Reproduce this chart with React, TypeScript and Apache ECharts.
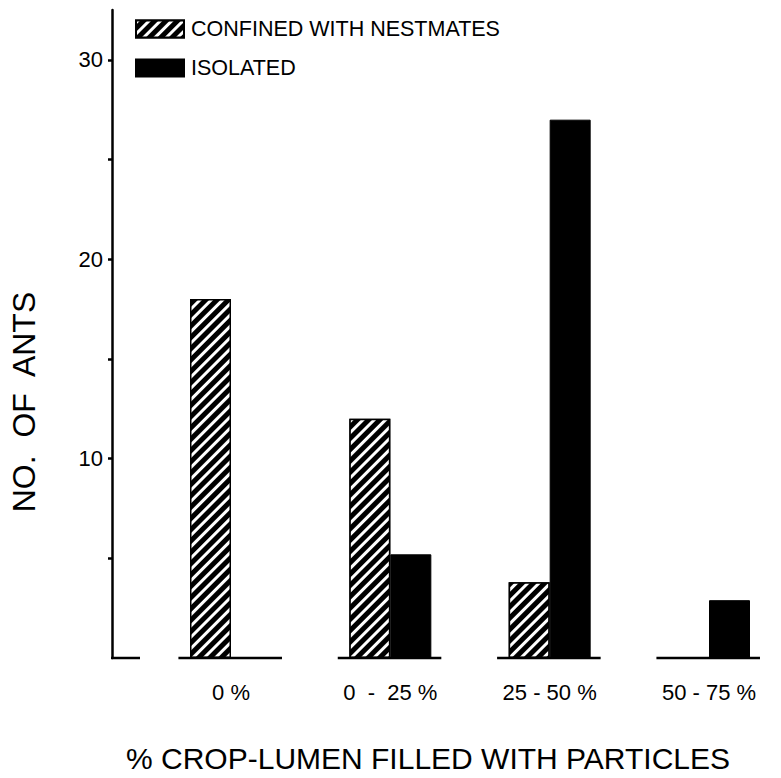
import React, { useEffect, useRef } from "react";
import * as echarts from "echarts";

const categories = ["0 %", "0  -  25 %", "25 - 50 %", "50 - 75 %"];
const confinedValues = [18, 12, 3.8, 0];
const isolatedValues = [0, 5.2, 27, 2.9];
const yLabelValues = [10, 20, 30];
const yTickValues = [5, 10, 15, 20, 25, 30];
const seriesNames = ["CONFINED WITH NESTMATES", "ISOLATED"];

const FONT = "Liberation Sans";

export default function App() {
  const ref = useRef<HTMLDivElement>(null);
  useEffect(() => {
    document.body.style.margin = "0";
    const chart = echarts.init(ref.current!, null, { renderer: "svg" });
    const option: any = {
      animation: false,
      backgroundColor: "#fff",
      textStyle: { fontFamily: FONT, color: "#000" },
      grid: { left: 231, right: 72, top: 10, bottom: 120 },
      legend: {
        data: seriesNames,
        orient: "vertical",
        left: 130,
        top: 13,
        icon: "rect",
        itemWidth: 48,
        itemHeight: 17,
        itemGap: 17,
        textStyle: { fontFamily: FONT, fontSize: 21.5, color: "#000", padding: [0, 0, 0, 2] },
        selectedMode: false,
      },
      xAxis: {
        type: "category",
        data: categories,
        boundaryGap: false,
        axisLine: { show: false },
        axisTick: { show: false },
        axisLabel: { fontFamily: FONT, fontSize: 22, color: "#000", margin: 23 },
      },
      yAxis: {
        type: "value",
        min: 0,
        max: 32.5,
        interval: 5,
        offset: 119,
        splitLine: { show: false },
        axisLine: { show: true, lineStyle: { color: "#000", width: 2.5 } },
        axisTick: { show: true, length: 4, customValues: yTickValues, lineStyle: { color: "#000", width: 2.5 } },
        axisLabel: { customValues: yLabelValues, fontFamily: FONT, fontSize: 22, color: "#000", margin: 9 },
      },
      series: [
        {
          name: seriesNames[0],
          type: "bar",
          data: confinedValues,
          barWidth: 41,
          barGap: "0%",
          itemStyle: {
            color: "#000",
            borderColor: "#000",
            borderWidth: 1.5,
            decal: {
              symbol: "rect",
              symbolSize: 1,
              color: "#fff",
              dashArrayX: [1, 0],
              dashArrayY: [2.5, 5],
              rotation: -Math.PI / 4,
            },
          },
        },
        {
          name: seriesNames[1],
          type: "bar",
          data: isolatedValues,
          barWidth: 41,
          barGap: "0%",
          itemStyle: { color: "#000", borderColor: "#000", borderWidth: 1 },
        },
        {
          type: "custom",
          name: "baseline",
          data: categories.map((_, i) => [i]),
          encode: { x: 0 },
          silent: true,
          z: 5,
          renderItem: (params: any, api: any) => {
            const p = api.coord([api.value(0), 0]);
            const band = api.size([1, 0])[0];
            return {
              type: "line",
              shape: { x1: p[0] - 0.33 * band, y1: p[1], x2: p[0] + 0.32 * band, y2: p[1] },
              style: { stroke: "#000", lineWidth: 2.5 },
            };
          },
        },
      ],
      graphic: [
        {
          type: "line",
          shape: { x1: 111, y1: 658, x2: 140, y2: 658 },
          style: { stroke: "#000", lineWidth: 2.5 },
        },
        {
          type: "text",
          x: 24,
          y: 402,
          rotation: Math.PI / 2,
          style: {
            text: "NO.  OF  ANTS",
            fontFamily: FONT,
            fontSize: 32,
            fill: "#000",
            align: "center",
            verticalAlign: "middle",
          },
        },
        {
          type: "text",
          x: 428,
          y: 758,
          style: {
            text: "% CROP-LUMEN FILLED WITH PARTICLES",
            fontFamily: FONT,
            fontSize: 30,
            fill: "#000",
            align: "center",
            verticalAlign: "middle",
          },
        },
      ],
    };
    chart.setOption(option);
    return () => chart.dispose();
  }, []);
  return <div ref={ref} style={{ width: 781, height: 778 }} />;
}
